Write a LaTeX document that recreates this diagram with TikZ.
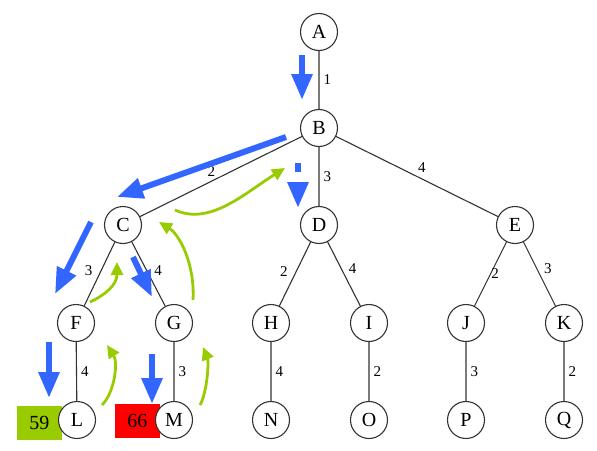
\documentclass[tikz,border=0pt]{standalone}
\usepackage{fontspec}
\setmainfont{Liberation Serif}
\usetikzlibrary{arrows.meta,positioning,calc,backgrounds}

\definecolor{walkblue}{RGB}{51,102,255}
\definecolor{backgreen}{RGB}{153,204,0}
\definecolor{costred}{RGB}{255,0,0}
\definecolor{treegray}{RGB}{51,51,51}

\begin{document}
\begin{tikzpicture}[
  x=1pt, y=-1pt,
  vertex/.style={circle, draw=treegray, line width=1.1pt, fill=white, minimum size=37pt, inner sep=0pt, font=\fontsize{20}{22}\selectfont},
  edge/.style={draw=treegray, line width=1.1pt},
  wt/.style={inner sep=1pt, font=\fontsize{15}{17}\selectfont},
  walk/.style={walkblue, line width=6pt, -{Triangle[length=26pt, width=20pt]}},
  back/.style={backgreen, line width=2.8pt, -{Triangle[length=13pt, width=12pt]}},
  score/.style={minimum width=45pt, minimum height=34pt, inner sep=0pt, anchor=east, font=\fontsize{20}{22}\selectfont}
]
  \useasboundingbox (0,0) rectangle (597,450);

  % tree
  \node[vertex] (A) at (319,32) {A};
  \node[vertex] (B) at (319,128) {B};
  \node[vertex] (C) at (123,225) {C};
  \node[vertex] (D) at (319,225) {D};
  \node[vertex] (E) at (515,225) {E};
  \node[vertex] (F) at (76,323) {F};
  \node[vertex] (G) at (174,323) {G};
  \node[vertex] (H) at (271,323) {H};
  \node[vertex] (I) at (369,323) {I};
  \node[vertex] (J) at (466,323) {J};
  \node[vertex] (K) at (564,323) {K};
  \node[vertex] (L) at (77,420) {L};
  \node[vertex] (M) at (174,420) {M};
  \node[vertex] (N) at (271,420) {N};
  \node[vertex] (O) at (369,420) {O};
  \node[vertex] (P) at (466,420) {P};
  \node[vertex] (Q) at (564,420) {Q};

  \path[edge] (A) -- node[wt, right=3pt] {1} (B)
              (B) -- node[wt, pos=.56, above=3pt] {2} (C)
              (B) -- node[wt, right=3pt] {3} (D)
              (B) -- node[wt, pos=.53, above=5pt] {4} (E)
              (C) -- node[wt, pos=.45, left=7pt] {3} (F)
              (C) -- node[wt, pos=.45, right=6pt] {4} (G)
              (D) -- node[wt, pos=.46, left=7pt] {2} (H)
              (D) -- node[wt, pos=.42, right=6pt] {4} (I)
              (E) -- node[wt, pos=.49, right=-1pt] {2} (J)
              (E) -- node[wt, pos=.41, right=6pt] {3} (K)
              (F) -- node[wt, right=3pt] {4} (L)
              (G) -- node[wt, right=3pt] {3} (M)
              (H) -- node[wt, right=3pt] {4} (N)
              (I) -- node[wt, right=3pt] {2} (O)
              (J) -- node[wt, right=3pt] {3} (P)
              (K) -- node[wt, right=3pt] {2} (Q);

  % leaf totals
  \begin{scope}[on background layer]
    \node[score, fill=backgreen] (sL) at ($(L)+(-15,3)$) {59};
    \node[score, fill=costred] (sM) at ($(M)+(-14,1)$) {66};
  \end{scope}

  % search walk
  \draw[walk] ($(A)+(-17,23)$) -- ($(B)+(-17,-28)$);
  \draw[walk] ($(B)+(-33,9)$) -- ($(C)+(-6,-28)$);
  \draw[walk, dash pattern=on 9pt off 20pt] ($(B)+(-21,35)$) -- ($(D)+(-21,-17)$);
  \draw[walk] ($(C)+(-32,-3)$) -- ($(F)+(-21,-29)$);
  \draw[walk] ($(C)+(10,32)$) -- ($(G)+(-22,-26)$);
  \draw[walk] ($(F)+(-27,19)$) -- ($(L)+(-28,-22)$);
  \draw[walk] ($(G)+(-22,31)$) -- ($(M)+(-22,-16)$);

  % backtracking
  \draw[back] ($(L)+(25,-15)$) .. controls +(13,-13) and +(11,17) .. ($(F)+(31,22)$);
  \draw[back] ($(M)+(26,-15)$) .. controls +(7,-12) and +(6,15) .. ($(G)+(29,24)$);
  \draw[back] ($(F)+(14,-21)$) .. controls +(15,-7) and +(0,23) .. ($(C)+(-6,37)$);
  \draw[back] ($(G)+(19,-23)$) .. controls +(2,-35) and +(21,13) .. ($(C)+(36,-3)$);
  \draw[back] ($(C)+(52,-15)$) .. controls +(35,16) and +(-40,25) .. ($(B)+(-34,40)$);
\end{tikzpicture}
\end{document}
